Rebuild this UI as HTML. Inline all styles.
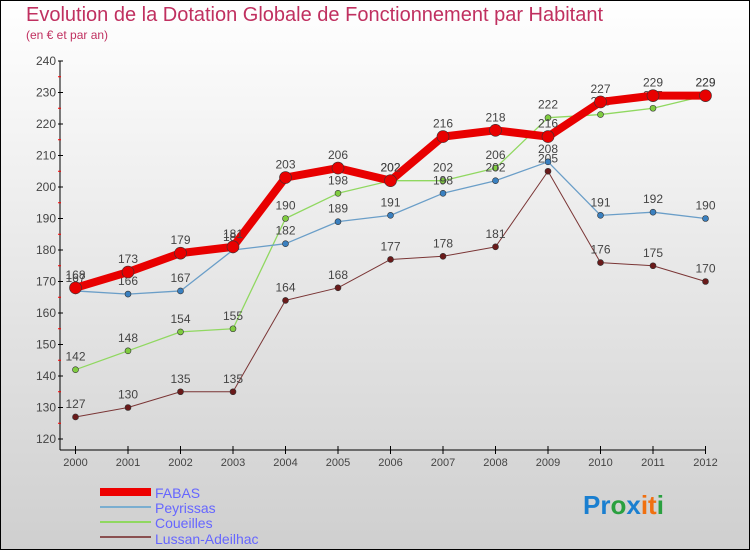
<!DOCTYPE html>
<html><head><meta charset="utf-8"><style>
body{margin:0}
#c{width:750px;height:550px;position:relative;overflow:hidden}
text{font-family:"Liberation Sans",sans-serif}
</style></head><body>
<div id="c">
<svg id="s" width="750" height="550" xmlns="http://www.w3.org/2000/svg">
<defs><linearGradient id="bg" x1="0" y1="0" x2="0" y2="1"><stop offset="0" stop-color="#ffffff"/><stop offset="1" stop-color="#cfcfcf"/></linearGradient></defs>
<rect x="0.5" y="0.5" width="749" height="549" fill="url(#bg)" stroke="#000"/>
<text x="26" y="21" font-size="20" fill="#c03060">Evolution de la Dotation Globale de Fonctionnement par Habitant</text>
<text x="26" y="39" font-size="12" fill="#c03060">(en € et par an)</text>
<g id="axes"></g><g id="series"></g>
<g>
<rect x="100" y="488" width="51" height="8" fill="#e00"/>
<text x="155" y="498" font-size="14" fill="#6666ff">FABAS</text>
<rect x="100" y="506" width="51" height="2" fill="#7aaed0"/>
<text x="155" y="513" font-size="14" fill="#6666ff">Peyrissas</text>
<rect x="100" y="521" width="51" height="2" fill="#90d860"/>
<text x="155" y="528" font-size="14" fill="#6666ff">Coueilles</text>
<rect x="100" y="536" width="51" height="2" fill="#8a5050"/>
<text x="155" y="544" font-size="14" fill="#6666ff">Lussan-Adeilhac</text>
</g>
<text x="583" y="514" font-size="26" font-weight="bold"><tspan fill="#1a7fd0">Pr</tspan><tspan fill="#2aa040">o</tspan><tspan fill="#1a7fd0">x</tspan><tspan fill="#f07010">it</tspan><tspan fill="#2aa040">i</tspan></text>
</svg></div>
<script>
const years=[2000,2001,2002,2003,2004,2005,2006,2007,2008,2009,2010,2011,2012];
const fabas=[168,173,179,181,203,206,202,216,218,216,227,229,229];
const peyrissas=[167,166,167,180,182,189,191,198,202,208,191,192,190];
const coueilles=[142,148,154,155,190,198,202,202,206,222,223,225,229];
const lussan=[127,130,135,135,164,168,177,178,181,205,176,175,170];
const yTicks=[120,130,140,150,160,170,180,190,200,210,220,230,240];
const NS="http://www.w3.org/2000/svg";
const X=i=>75.5+i*(705.5-75.5)/12;
const Y=v=>439-(v-120)*(439-61)/120;
function mk(t,a,p){const e=document.createElementNS(NS,t);for(const k in a)e.setAttribute(k,a[k]);p.appendChild(e);return e;}
const ax=document.getElementById('axes'),sg=document.getElementById('series');
let yl=mk('line',{x1:60,y1:61,x2:60,y2:450,stroke:'#000'},ax);


let xl=mk('line',{x1:60,y1:450,x2:706,y2:450,stroke:'#000'},ax);


yTicks.forEach((v,i)=>{
 mk('line',{x1:58,y1:Y(v),x2:63,y2:Y(v),stroke:'#000'},ax);
 if(i<yTicks.length-1)mk('line',{x1:58,y1:Y(v+5),x2:61,y2:Y(v+5),stroke:'#f00'},ax);
 const t=mk('text',{x:56,y:Y(v)+4,'font-size':12,'text-anchor':'end',fill:'#444'},ax);t.textContent=v;
 
 
});
years.forEach((y,i)=>{
 mk('line',{x1:X(i),y1:446,x2:X(i),y2:454,stroke:'#000'},ax);
 const t=mk('text',{x:X(i),y:466,'font-size':11,'text-anchor':'middle',fill:'#444'},ax);t.textContent=y;
 
 
});
function series(d,col,w,r,name,dot){
 const p=mk('polyline',{points:d.map((v,i)=>X(i)+','+Y(v)).join(' '),fill:'none',stroke:col,'stroke-width':w,'stroke-linejoin':'round'},sg);
 
 
 d.forEach((v,i)=>{
  const c=mk('circle',{cx:X(i),cy:Y(v),r:r,fill:dot,stroke:'#333','stroke-width':0.6},sg);
  
  
  const t=mk('text',{x:X(i),y:Y(v)-9,'font-size':12,'text-anchor':'middle',fill:'#444'},sg);t.textContent=v;
  
  
 });
}
series(lussan,'#7a3535',1,3,'lussan','#6a1a1a');
series(coueilles,'#90d860',1.3,3,'coueilles','#80cc40');
series(peyrissas,'#6a9ec8',1.3,3,'peyrissas','#3a80c0');
series(fabas,'#e80000',8,6,'fabas','#e80000');
</script></body></html>
